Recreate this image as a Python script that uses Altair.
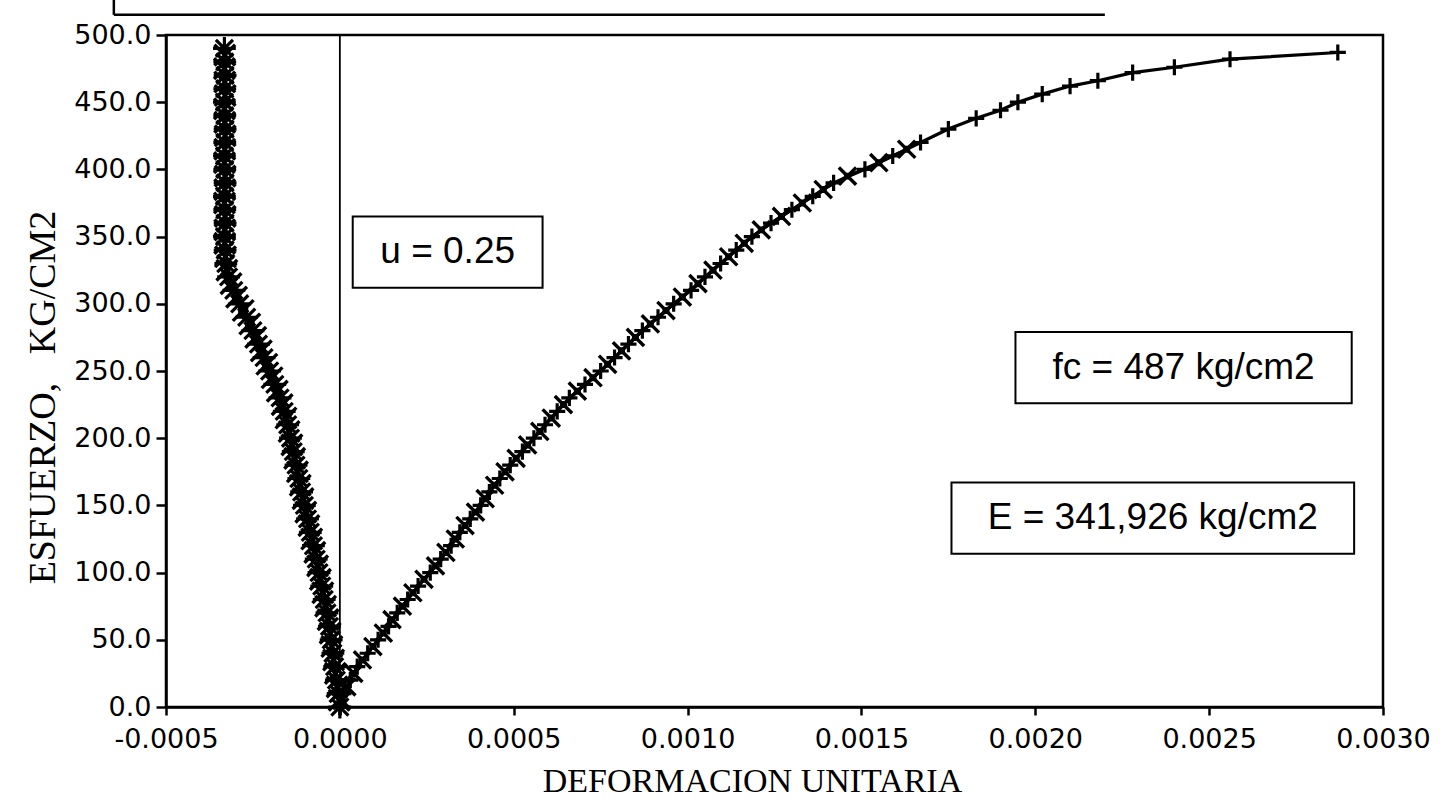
import altair as alt
import pandas as pd

# ---------------- data ----------------
# Longitudinal gauge 1 ("+" markers)
l1_stress = [0, 10, 20, 30, 40, 50, 60, 70, 80, 90, 100, 110, 120, 130, 140, 150, 160, 170,
             180, 190, 200, 210, 220, 230, 240, 250, 260, 270, 280, 290, 300, 310, 320, 330,
             340, 350, 360, 370, 380, 390, 400, 410, 420, 430, 438, 444, 450, 456, 462, 466,
             472, 476, 482, 487]
l1_strain = [0.0, 0.00001, 0.00003, 0.00005, 0.00008, 0.00011, 0.00014, 0.000165, 0.000195,
             0.000225, 0.00026, 0.00029, 0.00032, 0.000345, 0.000375, 0.000405, 0.00043,
             0.00046, 0.00049, 0.000525, 0.000558, 0.00059, 0.000625, 0.00066, 0.000705,
             0.00075, 0.00079, 0.00083, 0.00087, 0.000915, 0.00096, 0.00101, 0.00105,
             0.001095, 0.00114, 0.001185, 0.00124, 0.0013, 0.00136, 0.00142, 0.00151,
             0.00159, 0.00167, 0.00175, 0.00183, 0.0019, 0.00195, 0.00202, 0.0021, 0.00218,
             0.00228, 0.0024, 0.00256, 0.00287]

# Longitudinal gauge 2 ("X" markers with small squares)
l2_stress = [5, 15, 25, 35, 45, 55, 65, 75, 85, 95, 105, 115, 125, 135, 145, 155, 165, 175,
             185, 195, 205, 215, 225, 235, 245, 255, 265, 275, 285, 295, 305, 315, 325, 335,
             345, 355, 365, 375, 385, 395, 405, 415]
l2_strain = [0.000005, 0.00002, 0.00004, 0.000065, 0.000095, 0.000125, 0.00015, 0.00018,
             0.00021, 0.000242, 0.000275, 0.000305, 0.000332, 0.00036, 0.00039, 0.000418,
             0.000445, 0.000475, 0.000507, 0.00054, 0.000575, 0.000608, 0.000643, 0.000683,
             0.000728, 0.00077, 0.00081, 0.00085, 0.000893, 0.000938, 0.000985, 0.00103,
             0.001073, 0.001118, 0.001163, 0.001212, 0.00127, 0.00133, 0.00139, 0.00146,
             0.00155, 0.00163]

# Lateral gauge 1 (asterisk markers)
t1_stress = [0, 10, 20, 30, 40, 50, 60, 70, 80, 90, 100, 110, 120, 130, 140, 150, 160, 170,
             180, 190, 200, 210, 220, 230, 240, 250, 260, 270, 280, 290, 300, 310, 320, 330,
             340, 350, 360, 370, 380, 390, 400, 410, 420, 430, 440, 450, 460, 470, 480, 490]
t1_strain = [0.0, -0.000005, -0.00001, -0.000015, -0.00002, -0.000025, -0.00003, -0.000037,
             -0.000045, -0.000052, -0.00006, -0.000068, -0.000076, -0.000085, -0.000093,
             -0.000102, -0.00011, -0.000118, -0.000126, -0.000134, -0.000142, -0.00015,
             -0.00016, -0.000172, -0.000187, -0.000202, -0.000218, -0.000234, -0.00025,
             -0.000268, -0.000288, -0.000305, -0.00032, -0.000328, -0.00033, -0.000332,
             -0.00033, -0.000331, -0.000332, -0.00033, -0.000331, -0.000332, -0.000331,
             -0.00033, -0.000331, -0.000332, -0.000331, -0.00033, -0.000331, -0.000332]

# Lateral gauge 2 ("X" markers)
t2_stress = [5, 15, 25, 35, 45, 55, 65, 75, 85, 95, 105, 115, 125, 135, 145, 155, 165, 175,
             185, 195, 205, 215, 225, 235, 245, 255, 265, 275, 285, 295, 305, 315, 325, 335,
             345, 355, 365, 375, 385, 395, 405, 415, 425, 435, 445, 455, 465, 475, 485]
t2_strain = [-0.000002, -0.000008, -0.000013, -0.000018, -0.000023, -0.000028, -0.000034,
             -0.000041, -0.000049, -0.000056, -0.000064, -0.000072, -0.000081, -0.000089,
             -0.000098, -0.000106, -0.000114, -0.000122, -0.00013, -0.000138, -0.000146,
             -0.000155, -0.000166, -0.00018, -0.000195, -0.00021, -0.000226, -0.000242,
             -0.000259, -0.000278, -0.000297, -0.000313, -0.000325, -0.000329, -0.000331,
             -0.000331, -0.00033, -0.000332, -0.000331, -0.00033, -0.000332, -0.000331,
             -0.00033, -0.000331, -0.000332, -0.00033, -0.000331, -0.000332, -0.000331]

x_ticks = [-0.0005, 0.0, 0.0005, 0.0010, 0.0015, 0.0020, 0.0025, 0.0030]
y_ticks = [0, 50, 100, 150, 200, 250, 300, 350, 400, 450, 500]

box_labels = ["u = 0.25", "fc = 487 kg/cm2", "E = 341,926 kg/cm2"]
box_x1 = [0.000037, 0.001943, 0.001759]
box_x2 = [0.000583, 0.002910, 0.002917]
box_y1 = [312, 226, 114]
box_y2 = [365, 279, 167]

# partial (cut-off) box above the plot
top_box_x = [-0.00065, 0.0022]
top_box_y = [515, 560]

# ---------------- build tables ----------------
def frame(stress, strain):
    return pd.DataFrame({"strain": strain, "stress": stress, "idx": range(len(stress))})

d_l1 = frame(l1_stress, l1_strain)
d_l2 = frame(l2_stress, l2_strain)
d_t1 = frame(t1_stress, t1_strain)
d_t2 = frame(t2_stress, t2_strain)

boxes = pd.DataFrame({"label": box_labels, "x1": box_x1, "x2": box_x2, "y1": box_y1, "y2": box_y2})
boxes["xc"] = (boxes["x1"] + boxes["x2"]) / 2
boxes["yc"] = (boxes["y1"] + boxes["y2"]) / 2

xs = alt.Scale(domain=[-0.0005, 0.003], nice=False, zero=False)
ys = alt.Scale(domain=[0, 500], nice=False)

X = alt.X("strain:Q", scale=xs,
          axis=alt.Axis(values=x_ticks, format=".4f",
                        labelExpr="replace(format(datum.value, '.4f'), '\u2212', '-')",
                        labelFlush=False, labelOverlap=False,
                        title="DEFORMACION UNITARIA", grid=False,
                        titleX=586, titleY=57, titleBaseline="top"))
Y = alt.Y("stress:Q", scale=ys,
          axis=alt.Axis(values=y_ticks, format=".1f", labelOverlap=False,
                        title="ESFUERZO,\u00a0\u00a0\u00a0KG/CM2", grid=False,
                        titleX=-104, titleY=362))

PLUS = "M-1,0L1,0M0,-1L0,1"
AST = "M-1,0L1,0M0,-1L0,1M-0.75,-0.75L0.75,0.75M-0.75,0.75L0.75,-0.75"
XS = "M-1,-1L1,1M-1,1L1,-1"

def line(df, sw):
    return alt.Chart(df).mark_line(color="black", strokeWidth=sw).encode(
        x=X, y=Y, order="idx:Q")

def pts(df, shape, size, sw, filled=False):
    return alt.Chart(df).mark_point(shape=shape, size=size, color="black", filled=filled,
                                    strokeWidth=sw, opacity=1).encode(x=X, y=Y)

zero_df = pd.DataFrame({"strain": [0.0], "stress": [0], "stress2": [500]})
zero_line = alt.Chart(zero_df).mark_rule(color="black", strokeWidth=1.8).encode(
    x=X, y=Y, y2="stress2:Q")

tb = pd.DataFrame({"xa": [top_box_x[0], top_box_x[0]], "xb": [top_box_x[1], top_box_x[0]],
                   "ya": [top_box_y[0], top_box_y[0]], "yb": [top_box_y[0], top_box_y[1]]})
top_box = alt.Chart(tb).mark_rule(color="black", strokeWidth=2.5).encode(
    x=alt.X("xa:Q", scale=xs), x2="xb:Q", y=alt.Y("ya:Q", scale=ys), y2="yb:Q")

rects = alt.Chart(boxes).mark_rect(fill="white", stroke="black", strokeWidth=2).encode(
    x=alt.X("x1:Q", scale=xs), x2="x2:Q", y=alt.Y("y1:Q", scale=ys), y2="y2:Q")
texts = alt.Chart(boxes).mark_text(font="Liberation Sans", fontSize=37, color="black",
                                   baseline="middle", align="center").encode(
    x=alt.X("xc:Q", scale=xs), y=alt.Y("yc:Q", scale=ys), text="label:N")

chart = alt.layer(
    zero_line, top_box,
    line(d_l2, 3), line(d_l1, 3.2), line(d_t2, 3), line(d_t1, 3),
    pts(d_l2, XS, 300, 3.4),
    pts(d_l2, "square", 30, 1.5),
    pts(d_l1, PLUS, 260, 3.2),
    pts(d_t2, XS, 430, 3.4),
    pts(d_t1, AST, 520, 3.2),
    rects, texts,
).properties(
    width=1217, height=672,
    autosize=alt.AutoSizeParams(type="none"),
    padding={"left": 166, "top": 35, "right": 64, "bottom": 98},
).configure_view(
    stroke="black", strokeWidth=2.5
).configure_axis(
    domainColor="black", domainWidth=2.5, tickColor="black", tickWidth=2.5,
    labelColor="black", titleColor="black",
    labelFont="DejaVu Sans", labelFontSize=27,
    titleFont="Liberation Serif", titleFontWeight="normal",
).configure_axisX(
    tickSize=8, labelPadding=11, titleFontSize=34,
).configure_axisY(
    tickSize=10, labelPadding=5, titleFontSize=38,
)

chart.save("out.html", embed_options={"renderer": "svg", "actions": False})
